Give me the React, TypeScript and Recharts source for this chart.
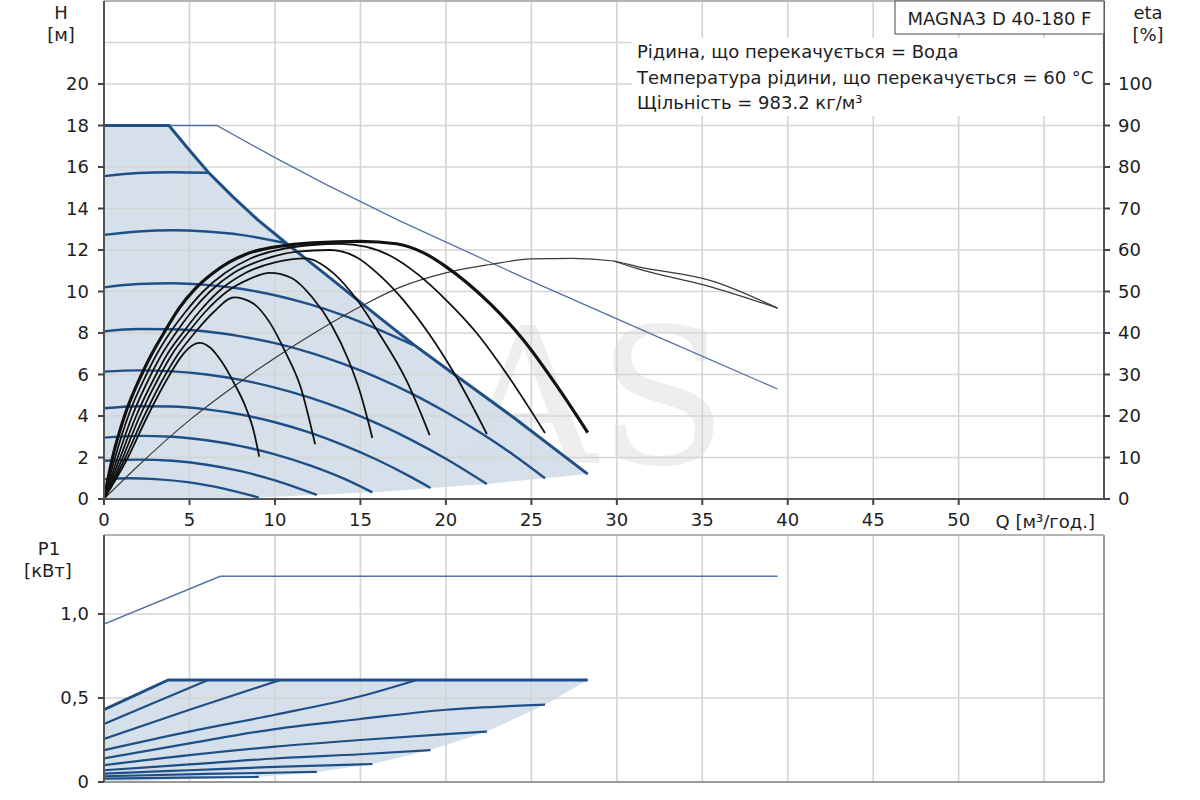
import React from 'react';
import { ComposedChart, Line, Area, XAxis, YAxis, ReferenceLine } from 'recharts';

type P = [number, number];
type B = [number, number, number];

// ---- axes / ticks ----
const qTicks = [0, 5, 10, 15, 20, 25, 30, 35, 40, 45, 50];
const qGrid = [5, 10, 15, 20, 25, 30, 35, 40, 45, 50, 55];
const hTicks = [0, 2, 4, 6, 8, 10, 12, 14, 16, 18, 20];
const hGrid = [2, 4, 6, 8, 10, 12, 14, 16, 18, 20, 22];
const etaTicks = [0, 10, 20, 30, 40, 50, 60, 70, 80, 90, 100];
const pTicks = [0, 0.5, 1.0];
const pGrid = [0.5, 1.0];

// ---- H (m) curves ----
const hMax: P[] = [[0, 18], [3.8, 18], [4.9, 16.9], [6.1, 15.75], [7.5, 14.6], [9, 13.45], [10.7, 12.3], [13, 10.8], [16.1, 8.75], [18.1, 7.45], [20, 6.3], [24, 3.9], [28.3, 1.2]];
const hLimit: P[] = [[3.8, 18], [6.6, 18], [10, 16.45], [13, 15.15], [17.3, 13.4], [25, 10.5], [32.3, 7.85], [39.4, 5.3]];
const hS1: P[] = [[0, 15.56], [2, 15.71], [4, 15.75], [6.1, 15.72]];
const hS2: P[] = [[0, 12.73], [2, 12.89], [4, 12.95], [6, 12.89], [8, 12.73], [10.7, 12.32]];
const hS3: P[] = [[0, 10.2], [2, 10.36], [4, 10.4], [6, 10.32], [8, 10.13], [10, 9.82], [12, 9.39], [14, 8.85], [16, 8.19], [18.1, 7.42]];
const hS4: P[] = [[0, 8.08], [2, 8.19], [4, 8.18], [6, 8.07], [8, 7.84], [10, 7.51], [12, 7.07], [14, 6.51], [16, 5.85], [18, 5.08], [20, 4.19], [22, 3.2], [24, 2.1], [25.8, 1.0]];
const hS5: P[] = [[0, 6.14], [2, 6.2], [4, 6.15], [6, 6.0], [8, 5.74], [10, 5.37], [12, 4.9], [14, 4.32], [16, 3.63], [18, 2.84], [20, 1.94], [22.4, 0.72]];
const hS6: P[] = [[0, 4.37], [2, 4.47], [4, 4.46], [6, 4.32], [8, 4.07], [10, 3.7], [12, 3.21], [14, 2.6], [16, 1.88], [18, 1.04], [19.1, 0.53]];
const hS7: P[] = [[0, 2.96], [2, 3.04], [4, 3.0], [6, 2.83], [8, 2.55], [10, 2.15], [12, 1.63], [14, 0.99], [15.7, 0.32]];
const hS8: P[] = [[0, 1.84], [2, 1.9], [4, 1.84], [6, 1.65], [8, 1.34], [10, 0.9], [12.45, 0.2]];
const hS9: P[] = [[0, 0.96], [1.5, 1.0], [3, 0.96], [5, 0.8], [7, 0.5], [9.05, 0.07]];
const hBand: B[] = [[0, 0, 18], [3.8, 0.01, 18], [4.9, 0.02, 16.9], [6.1, 0.03, 15.75], [7.5, 0.05, 14.6], [9.05, 0.07, 13.42], [10.7, 0.13, 12.3], [12.45, 0.2, 11.16], [13, 0.22, 10.8], [15.7, 0.32, 9.0], [16.1, 0.34, 8.75], [18.1, 0.46, 7.45], [19.1, 0.53, 6.87], [20, 0.58, 6.3], [22.4, 0.72, 4.86], [24, 0.85, 3.9], [25.8, 1.0, 2.77], [28.3, 1.2, 1.2]];

// ---- eta (%) curves ----
const eta1: P[] = [[0, 0], [1.4, 10], [2.55, 20], [3.85, 30], [4.55, 34.5], [5.1, 36.8], [5.6, 37.6], [6.2, 36.5], [6.9, 33], [7.6, 28], [8.3, 22], [8.75, 16.5], [9.08, 10.2]];
const eta2: P[] = [[0, 0], [1.25, 10], [2.35, 20], [3.6, 30], [4.35, 35], [5.3, 40], [6.4, 45], [7.6, 48.6], [8.7, 47.2], [9.7, 42.5], [10.6, 35.5], [11.5, 27], [12.35, 13.2]];
const eta3: P[] = [[0, 0], [1.1, 10], [2.1, 20], [3.3, 30], [4.0, 35], [4.9, 40], [5.9, 45], [7.2, 50], [8.5, 53], [9.7, 54.5], [11, 53.2], [12.2, 48.5], [13.3, 42], [14.3, 33.5], [15.0, 25.5], [15.7, 14.7]];
const eta4: P[] = [[0, 0], [0.95, 10], [1.88, 20], [3.05, 30], [3.72, 35], [4.6, 40], [5.55, 45], [6.7, 50], [8.3, 54.5], [10, 57], [11.8, 58], [13.4, 54.5], [14.8, 48], [16, 40.5], [17.7, 28.5], [19.05, 15.4]];
const eta5: P[] = [[0, 0], [0.8, 10], [1.65, 20], [2.75, 30], [3.4, 35], [4.2, 40], [5.1, 45], [6.2, 50], [7.6, 54.5], [9.4, 57.8], [11.3, 59.6], [13.2, 60], [14.8, 58.2], [16.1, 54], [17.6, 47.5], [18.9, 40.5], [20.6, 29.5], [22.4, 15.65]];
const eta6: P[] = [[0, 0], [0.65, 10], [1.42, 20], [2.48, 30], [3.1, 35], [3.85, 40], [4.75, 45], [5.8, 50], [7.1, 54.5], [8.6, 58], [10.5, 60.3], [12.2, 61.2], [13.8, 61.5], [15.3, 60.8], [16.8, 58.5], [18.4, 54], [20, 48], [21.8, 40], [23.5, 30.5], [25.8, 15.9]];
const eta7: P[] = [[0, 0], [0.5, 10], [1.2, 20], [2.2, 30], [2.8, 35], [3.5, 40], [4.4, 46], [5.3, 50.5], [6.4, 54.5], [7.3, 57], [8.3, 59], [10.3, 60.9], [12.2, 61.7], [15, 62.1], [17.1, 61.5], [18.7, 59.3], [20, 56], [22.6, 47], [24.5, 38.5], [26.7, 26], [28.3, 16]];
const etaTot: P[] = [[0, 0], [2, 8], [5, 19], [7.55, 27], [10, 34], [12.5, 40.5], [15.2, 46.8], [17.3, 51], [20, 54.5], [22.6, 56.5], [25, 57.85], [27.4, 58], [29.8, 57.35], [31.2, 56], [35.6, 52.5], [39.4, 46]];
const etaTot2: P[] = [[29.8, 57.35], [31.2, 55.5], [35.6, 51], [39.4, 46]];

// ---- P1 (kW) curves ----
const pLimit: P[] = [[0, 0.94], [6.8, 1.224], [39.4, 1.224]];
const pMax: P[] = [[0, 0.43], [3.76, 0.607], [28.3, 0.607]];
const pS1: P[] = [[0, 0.345], [3, 0.475], [6.1, 0.607]];
const pS2: P[] = [[0, 0.256], [5, 0.43], [10.3, 0.607]];
const pS3: P[] = [[0, 0.19], [5, 0.3], [10, 0.4], [15, 0.51], [18.3, 0.607]];
const pS4: P[] = [[0, 0.14], [5, 0.23], [10, 0.315], [15, 0.375], [20, 0.43], [25.8, 0.46]];
const pS5: P[] = [[0, 0.1], [5, 0.16], [10, 0.21], [15, 0.25], [20, 0.285], [22.4, 0.3]];
const pS6: P[] = [[0, 0.07], [5, 0.105], [10, 0.14], [15, 0.165], [19.1, 0.19]];
const pS7: P[] = [[0, 0.05], [5, 0.07], [10, 0.09], [15.7, 0.107]];
const pS8: P[] = [[0, 0.034], [6, 0.048], [12.45, 0.06]];
const pS9: P[] = [[0, 0.02], [4.5, 0.026], [9.05, 0.03]];
const pBand: B[] = [[0, 0, 0.43], [3.76, 0.012, 0.607], [9.05, 0.03, 0.607], [12.45, 0.06, 0.607], [15.7, 0.107, 0.607], [19.1, 0.19, 0.607], [22.4, 0.3, 0.607], [25.8, 0.46, 0.607], [28.3, 0.607, 0.607]];

const pts = (a: P[]) => a.map(([x, y]) => ({ x, y }));
const band = (a: B[]) => a.map(([x, lo, hi]) => ({ x, lo, hi }));

const BLUE = '#1f4f87';
const THIN = '#5573a0';
const GRID = '#d4d4d4';
const FONT = 'DejaVu Sans';
const tickStyle = { fontSize: 18, fill: '#1e1e1e', fontFamily: FONT };

const line = (key: string, data: P[], color: string, w: number, yAxisId: string, type: any = 'monotone') => (
  <Line key={key} data={pts(data)} dataKey="y" yAxisId={yAxisId} type={type} stroke={color} strokeWidth={w}
    dot={false} activeDot={false} isAnimationActive={false} legendType="none" />
);

const hSpeed = [hS1, hS2, hS3, hS4, hS5, hS6, hS7, hS8, hS9];
const etaCurves = [eta1, eta2, eta3, eta4, eta5, eta6];
const pSpeed = [pS1, pS2, pS3, pS4, pS5, pS6, pS7, pS8, pS9];

const fmtP = (v: number) => (v === 0 ? '0' : v.toFixed(1).replace('.', ','));

export default function App() {
  return (
    <div style={{ position: 'absolute', left: 0, top: 0, width: 1200, height: 800, background: '#fff', overflow: 'hidden' }}>
      <svg width={1200} height={800} style={{ position: 'absolute', left: 0, top: 0 }}>
        <text x={460} y={463} fontFamily="DejaVu Serif" fontSize={190} fill="#eeeeee">AS</text>
      </svg>
      <div style={{ position: 'absolute', left: 0, top: 0 }}>
        <ComposedChart width={1200} height={530} margin={{ top: 1, right: 0, bottom: 0, left: 0 }}>
          <XAxis type="number" dataKey="x" domain={[0, 58.5]} ticks={qTicks} interval={0} allowDataOverflow
            height={31} tick={tickStyle} tickSize={6} tickMargin={8}
            tickLine={{ stroke: '#444', strokeWidth: 2 }} axisLine={{ stroke: '#555', strokeWidth: 2 }} />
          <YAxis yAxisId="h" domain={[0, 24]} ticks={hTicks} interval={0} allowDataOverflow width={104}
            tick={tickStyle} tickSize={6} tickMargin={9}
            tickLine={{ stroke: '#444', strokeWidth: 2 }} axisLine={{ stroke: '#555', strokeWidth: 2 }} />
          <YAxis yAxisId="eta" orientation="right" domain={[0, 120]} ticks={etaTicks} interval={0} allowDataOverflow width={96}
            tick={tickStyle} tickSize={6} tickMargin={8}
            tickLine={{ stroke: '#444', strokeWidth: 2 }} axisLine={{ stroke: '#555', strokeWidth: 2 }} />
          {qGrid.map((v) => <ReferenceLine key={'qx' + v} x={v} yAxisId="h" stroke={GRID} strokeWidth={1.6} />)}
          {hGrid.map((v) => <ReferenceLine key={'hy' + v} y={v} yAxisId="h" stroke={GRID} strokeWidth={1.6} />)}
          <ReferenceLine y={24} yAxisId="h" stroke="#b5b5b5" strokeWidth={2} />
          <Area data={band(hBand)} dataKey={(d: any) => [d.lo, d.hi]} yAxisId="h" type="linear" stroke="none"
            fill="#cfdbe8" fillOpacity={0.85} isAnimationActive={false} legendType="none" dot={false} activeDot={false} />
          {line('hLimit', hLimit, THIN, 1.3, 'h', 'linear')}
          {hSpeed.map((c, i) => line('hs' + i, c, BLUE, 2.4, 'h'))}
          {line('hMax', hMax, BLUE, 3, 'h', 'linear')}
          {line('etaTot', etaTot, '#3a3a3a', 1.2, 'eta')}
          {line('etaTot2', etaTot2, '#3a3a3a', 1.2, 'eta')}
          {etaCurves.map((c, i) => line('eta' + i, c, '#111', 1.8, 'eta'))}
          {line('eta7', eta7, '#111', 3.2, 'eta')}
        </ComposedChart>
      </div>
      <div style={{ position: 'absolute', left: 0, top: 530 }}>
        <ComposedChart width={1200} height={270} margin={{ top: 5, right: 96, bottom: 0, left: 0 }}>
          <XAxis type="number" dataKey="x" domain={[0, 58.5]} ticks={qTicks} allowDataOverflow height={18}
            tick={false} tickLine={false} axisLine={{ stroke: '#999', strokeWidth: 2 }} />
          <YAxis domain={[0, 1.47]} ticks={pTicks} interval={0} allowDataOverflow width={104}
            tick={tickStyle} tickSize={6} tickMargin={9} tickFormatter={fmtP}
            tickLine={{ stroke: '#444', strokeWidth: 2 }} axisLine={{ stroke: '#555', strokeWidth: 2 }} />
          {qGrid.map((v) => <ReferenceLine key={'px' + v} x={v} stroke={GRID} strokeWidth={1.6} />)}
          {pGrid.map((v) => <ReferenceLine key={'py' + v} y={v} stroke={GRID} strokeWidth={1.6} />)}
          <ReferenceLine y={1.47} stroke="#b5b5b5" strokeWidth={2} />
          <ReferenceLine x={58.5} stroke="#999" strokeWidth={2} />
          <Area data={band(pBand)} dataKey={(d: any) => [d.lo, d.hi]} type="linear" stroke="none"
            fill="#cfdbe8" fillOpacity={0.85} isAnimationActive={false} legendType="none" dot={false} activeDot={false} />
          <Line data={pts(pLimit)} dataKey="y" type="linear" stroke={THIN} strokeWidth={1.5} dot={false} activeDot={false} isAnimationActive={false} legendType="none" />
          {pSpeed.map((c, i) => (
            <Line key={'ps' + i} data={pts(c)} dataKey="y" type="monotone" stroke={BLUE} strokeWidth={2.2} dot={false} activeDot={false} isAnimationActive={false} legendType="none" />
          ))}
          <Line data={pts(pMax)} dataKey="y" type="linear" stroke={BLUE} strokeWidth={3} dot={false} activeDot={false} isAnimationActive={false} legendType="none" />
        </ComposedChart>
      </div>
      <svg width={1200} height={800} style={{ position: 'absolute', left: 0, top: 0, pointerEvents: 'none' }}
        fontFamily={FONT} fontSize={18} fill="#1e1e1e">
        <rect x={632} y={38} width={470} height={78} fill="#fff" />
        <rect x={895} y={1} width={209} height={33} fill="#fff" stroke="#666" strokeWidth={1.2} />
        <text x={999.5} y={18} textAnchor="middle" dominantBaseline="central">MAGNA3 D 40-180 F</text>
        <text x={637} y={51} dominantBaseline="central">Рідина, що перекачується = Вода</text>
        <text x={637} y={77} dominantBaseline="central">Температура рідини, що перекачується = 60 °C</text>
        <text x={637} y={102} dominantBaseline="central">Щільність = 983.2 кг/м³</text>
        <text x={61} y={12} textAnchor="middle" dominantBaseline="central">H</text>
        <text x={61} y={34} textAnchor="middle" dominantBaseline="central">[м]</text>
        <text x={1148} y={12} textAnchor="middle" dominantBaseline="central">eta</text>
        <text x={1148} y={34} textAnchor="middle" dominantBaseline="central">[%]</text>
        <text x={1095} y={521} textAnchor="end" dominantBaseline="central">Q [м³/год.]</text>
        <text x={49} y={548} textAnchor="middle" dominantBaseline="central">P1</text>
        <text x={48} y={570} textAnchor="middle" dominantBaseline="central">[кВт]</text>
      </svg>
    </div>
  );
}
